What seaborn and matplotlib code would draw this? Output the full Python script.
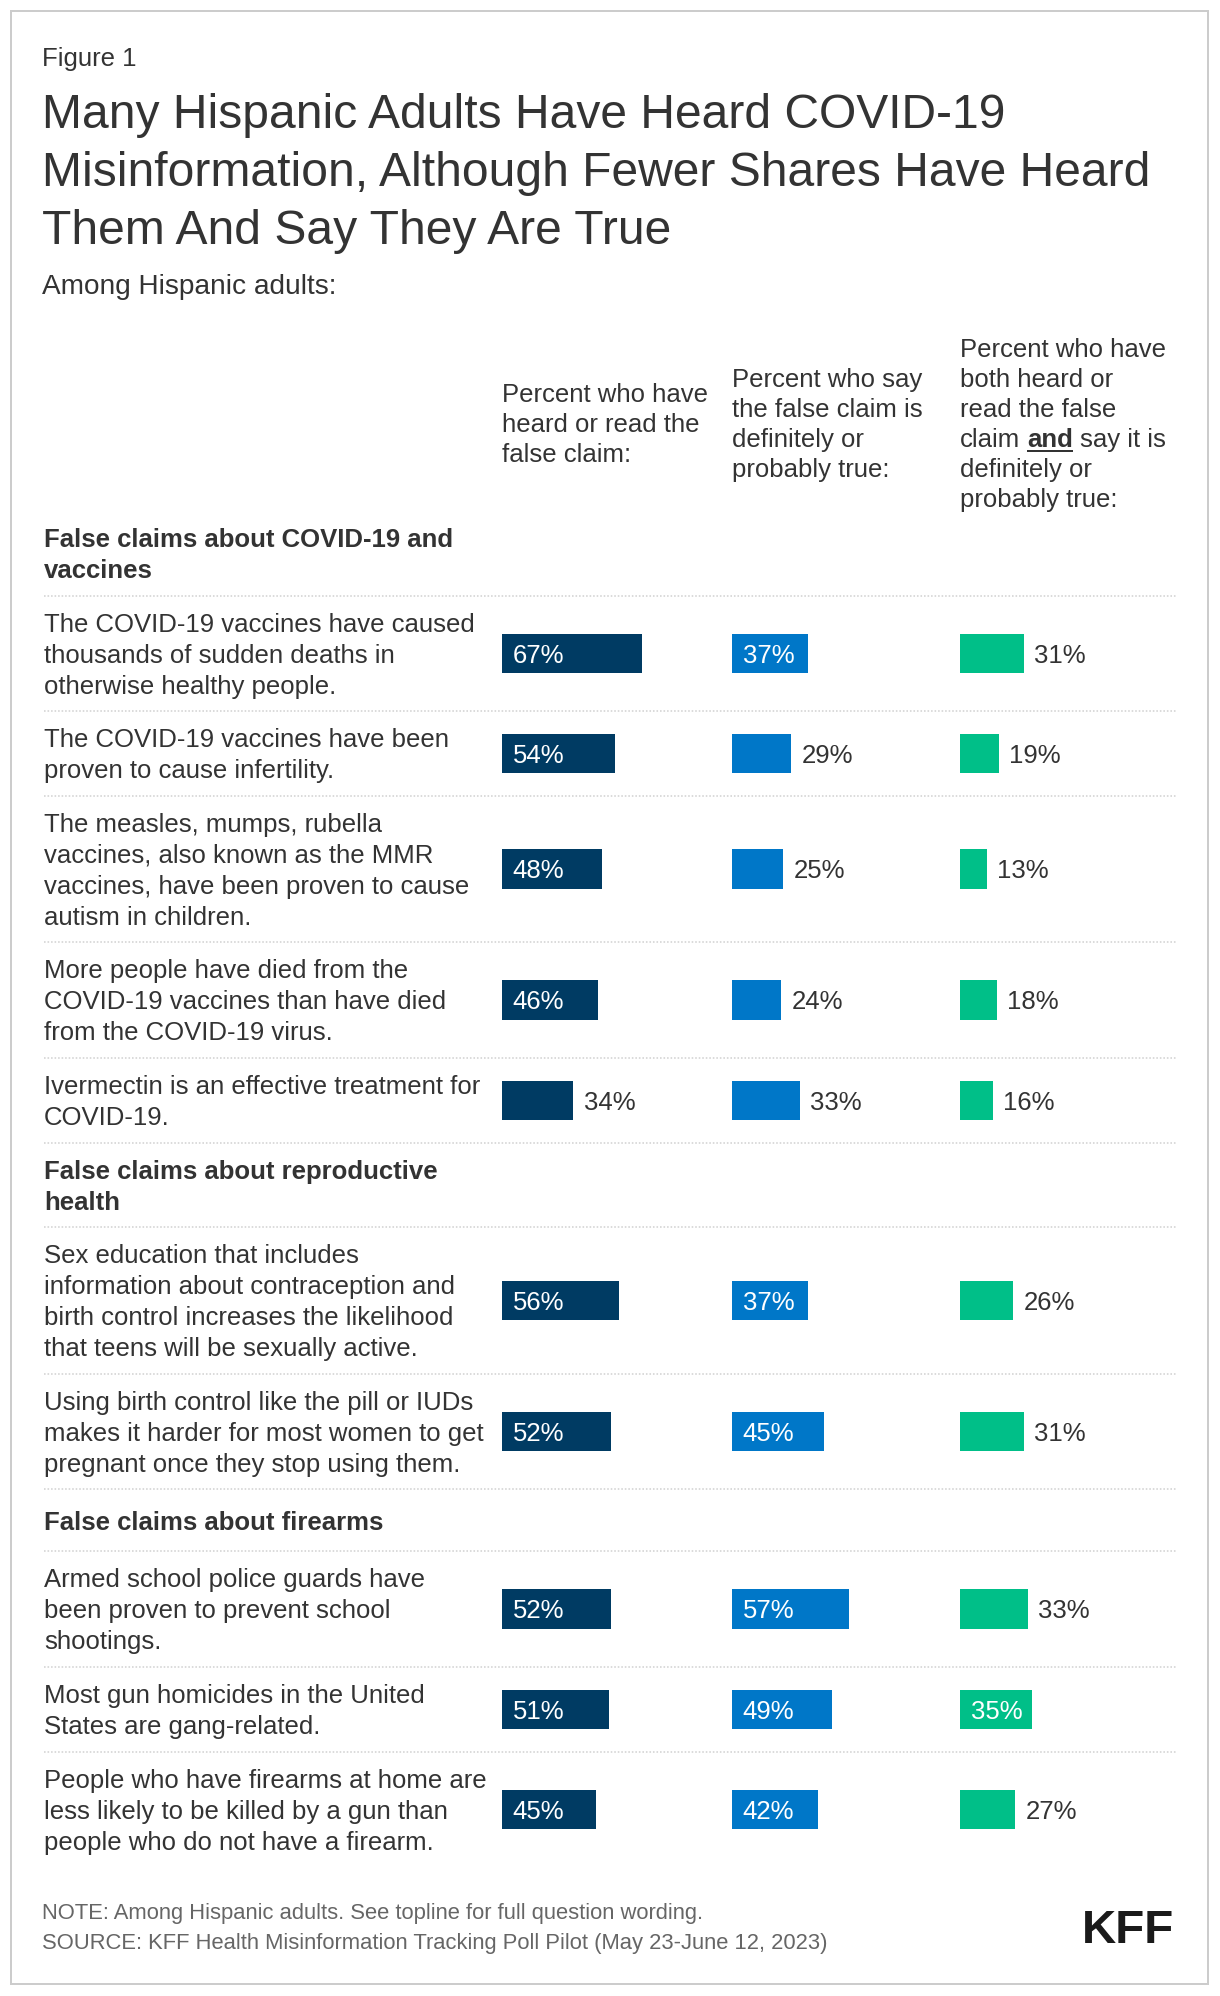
import numpy as np
import pandas as pd
import matplotlib
matplotlib.use("Agg")
import matplotlib.pyplot as plt
import seaborn as sns
from matplotlib import font_manager as fm
from matplotlib.patches import Rectangle

# ---------------- data ----------------
figure_label = "Figure 1"
title_lines = ["Many Hispanic Adults Have Heard COVID-19",
               "Misinformation, Although Fewer Shares Have Heard",
               "Them And Say They Are True"]
subtitle = "Among Hispanic adults:"

col_header_1 = ["Percent who have", "heard or read the", "false claim:"]
col_header_2 = ["Percent who say", "the false claim is", "definitely or", "probably true:"]
col_header_3 = ["Percent who have", "both heard or", "read the false",
                "claim |and| say it is", "definitely or", "probably true:"]

sections = ["False claims about COVID-19 and\nvaccines",
            "False claims about reproductive\nhealth",
            "False claims about firearms"]
section_sizes = [5, 2, 3]

claims = [
    "The COVID-19 vaccines have caused\nthousands of sudden deaths in\notherwise healthy people.",
    "The COVID-19 vaccines have been\nproven to cause infertility.",
    "The measles, mumps, rubella\nvaccines, also known as the MMR\nvaccines, have been proven to cause\nautism in children.",
    "More people have died from the\nCOVID-19 vaccines than have died\nfrom the COVID-19 virus.",
    "Ivermectin is an effective treatment for\nCOVID-19.",
    "Sex education that includes\ninformation about contraception and\nbirth control increases the likelihood\nthat teens will be sexually active.",
    "Using birth control like the pill or IUDs\nmakes it harder for most women to get\npregnant once they stop using them.",
    "Armed school police guards have\nbeen proven to prevent school\nshootings.",
    "Most gun homicides in the United\nStates are gang-related.",
    "People who have firearms at home are\nless likely to be killed by a gun than\npeople who do not have a firearm.",
]
heard = [67, 54, 48, 46, 34, 56, 52, 52, 51, 45]
say_true = [37, 29, 25, 24, 33, 37, 45, 57, 49, 42]
heard_and_true = [31, 19, 13, 18, 16, 26, 31, 33, 35, 27]

note = "NOTE: Among Hispanic adults. See topline for full question wording."
source = "SOURCE: KFF Health Misinformation Tracking Poll Pilot (May 23-June 12, 2023)"
logo = "KFF"

# ---------------- style ----------------
W, H, DPI = 1220, 1996, 100
PT = 72.0 / DPI
TEXT = "#333333"
NAVY, BLUE, GREEN = "#003B63", "#0077C8", "#00BF88"

sns.set_style("white")
plt.rcParams["font.family"] = ["Liberation Sans", "DejaVu Sans"]

BODY_PX = 25.7
BODY = BODY_PX * PT
LINE = 31.0

fig = plt.figure(figsize=(W / DPI, H / DPI), dpi=DPI)
fig.patch.set_facecolor("white")
cv = fig.add_axes([0, 0, 1, 1])
cv.set_xlim(0, W)
cv.set_ylim(H, 0)
cv.axis("off")

cv.add_patch(Rectangle((11, 11), 1197, 1973, fill=False, edgecolor="#cccccc", lw=2 * PT))


def text_lines(x, first_center, lines, spacing, size_px, **kw):
    for i, line in enumerate(lines):
        cv.text(x, first_center + i * spacing + 0.358 * size_px, line,
                va="baseline", ha="left", fontsize=size_px * PT, **kw)


# header texts
text_lines(42, 57, [figure_label], 30, BODY_PX, color=TEXT)
text_lines(42, 111, title_lines, 58, 48, color=TEXT)
text_lines(42, 284, [subtitle], 30, 28.0, color=TEXT)

renderer = fig.canvas.get_renderer()


def width_of(s, **kw):
    t = cv.text(0, 0, s, fontsize=BODY, **kw)
    w = t.get_window_extent(renderer).width
    t.remove()
    return w


HDR_C = 423
HDR_SP = 30
col_lefts = [502, 732, 960]
for x, hdr in zip(col_lefts, [col_header_1, col_header_2, col_header_3]):
    first = HDR_C - (len(hdr) - 1) * HDR_SP / 2
    for i, line in enumerate(hdr):
        yb = first + i * HDR_SP + 0.358 * BODY_PX
        if "|" in line:
            a, b, c = line.split("|")
            space = width_of("a a") - width_of("aa")
            xa = x
            cv.text(xa, yb, a.strip(), va="baseline", fontsize=BODY, color=TEXT)
            xb = xa + width_of(a.strip()) + space
            cv.text(xb, yb, b, va="baseline", fontsize=BODY, color=TEXT, fontweight="bold")
            wb = width_of(b, fontweight="bold")
            cv.plot([xb, xb + wb], [yb + 3.5, yb + 3.5], color=TEXT, lw=2 * PT,
                    solid_capstyle="butt")
            xc = xb + wb + space
            cv.text(xc, yb, c.strip(), va="baseline", fontsize=BODY, color=TEXT)
        else:
            cv.text(x, yb, line, va="baseline", fontsize=BODY, color=TEXT)

# ---------------- layout of rows ----------------
PAD = 22.6
top = 511
bar_centers = []
row_idx = 0
n_rows = len(claims)
for s_text, s_n in zip(sections, section_sizes):
    sl = s_text.split("\n")
    h = max(LINE * len(sl) + PAD, 62)
    first = top + (h - LINE * (len(sl) - 1)) / 2
    text_lines(44, first, sl, LINE, BODY_PX, color=TEXT, fontweight="bold")
    top += h
    cv.plot([44, 1176], [top, top], color="#d3d3d3", lw=1.6 * PT, ls=(0, (1, 1.2)))
    for _ in range(s_n):
        cl = claims[row_idx].split("\n")
        h = LINE * len(cl) + PAD
        first = top + (h - LINE * (len(cl) - 1)) / 2
        text_lines(44, first, cl, LINE, BODY_PX, color=TEXT)
        bar_centers.append(top + h / 2)
        top += h
        row_idx += 1
        if row_idx < n_rows:
            cv.plot([44, 1176], [top, top], color="#d3d3d3", lw=1.6 * PT, ls=(0, (1, 1.2)))

df = pd.DataFrame({"claim": claims, "y": np.array(bar_centers, dtype=float),
                   "heard": heard, "say_true": say_true, "heard_and_true": heard_and_true})

BAR_H = 39.5
gap = float(np.min(np.diff(np.sort(df["y"].values))))
cols = [("heard", NAVY, 502, 2.09), ("say_true", BLUE, 732, 2.05), ("heard_and_true", GREEN, 960, 2.05)]
for key, color, left, ppu in cols:
    ax = fig.add_axes([left / W, 0, ppu * 100 / W, 1])
    ax.set_facecolor("none")
    sns.barplot(data=df, x=key, y="y", orient="h", native_scale=True,
                width=BAR_H / gap, color=color, saturation=1, errorbar=None,
                linewidth=0, ax=ax)
    ax.set_xlim(0, 100)
    ax.set_ylim(H, 0)
    ax.axis("off")
    for v, yc in zip(df[key], df["y"]):
        inside = v >= 35
        ax.annotate(f"{v}%", xy=(0 if inside else v, yc),
                    xytext=(10.7 if inside else 10.5, -0.358 * BODY_PX),
                    textcoords="offset pixels", va="baseline", ha="left",
                    fontsize=BODY, color="white" if inside else TEXT)

# footer
NOTE_PX = 22.05
cv.text(42, 1911 + 0.358 * NOTE_PX, note, va="baseline", fontsize=NOTE_PX * PT, color="#666666")
cv.text(42, 1941 + 0.358 * NOTE_PX, source, va="baseline", fontsize=NOTE_PX * PT, color="#666666")

names = {f.name for f in fm.fontManager.ttflist}
if "Liberation Sans Narrow" in names:
    cv.text(1174, 1943, logo, ha="right", va="baseline", fontsize=58 * PT,
            fontweight="bold", family="Liberation Sans Narrow", color="#1a1a1a")
else:
    cv.text(1174, 1943, logo, ha="right", va="baseline", fontsize=47.5 * PT,
            fontweight="bold", color="#1a1a1a")

fig.savefig("out.png", dpi=DPI, facecolor="white")
